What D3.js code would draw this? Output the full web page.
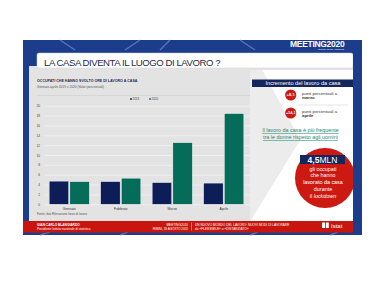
<!DOCTYPE html>
<html><head><meta charset="utf-8">
<script src="https://cdn.jsdelivr.net/npm/d3@7"></script>
<style>html,body{margin:0;padding:0;background:#fff;}svg{display:block;font-family:"Liberation Sans",Arial,sans-serif;}</style>
</head><body>
<svg id="c" width="390" height="281"></svg>
<script>
const categories = ["Gennaio", "Febbraio", "Marzo", "Aprile"];
const seriesNames = ["2019", "2020"];
const values2019 = [4.7, 4.6, 4.4, 4.3];
const values2020 = [4.6, 5.3, 12.5, 18.4];
const yTicks = [0, 2, 4, 6, 8, 10, 12, 14, 16, 18, 20];
const colors = ["#0c1d57", "#066c5a"];

const svg = d3.select("#c");
const navy = "#1c3c8c";

// slide frame
svg.append("rect").attr("x",23).attr("y",40).attr("width",339).attr("height",195).attr("fill",navy);
const streaks = [[60,40,75,50],[140,40,125,50],[170,40,160,50],[240,40,255,50],[40,235,50,232],[120,235,128,232],[250,235,258,232],[330,235,338,232]];
svg.selectAll("line.st").data(streaks).enter().append("line")
  .attr("x1",d=>d[0]).attr("y1",d=>d[1]).attr("x2",d=>d[2]).attr("y2",d=>d[3])
  .attr("stroke","#6f8cc8").attr("stroke-width",1.5).attr("opacity",0.7);

// content gray panel
svg.append("rect").attr("x",29).attr("y",66).attr("width",324).attr("height",156).attr("fill","#e3e3e3");
svg.append("path").attr("d","M262,70 L353,70 L353,221 L250,221 L300,140 Z").attr("fill","#ffffff");
svg.append("path").attr("d","M250,70 L262,70 L300,140 L250,221 Z").attr("fill","#ececec");

// title box
svg.append("rect").attr("x",37).attr("y",53).attr("width",316).attr("height",15).attr("rx",2).attr("fill","#ffffff").attr("stroke","#d0d0d0").attr("stroke-width",0.5);
svg.append("text").attr("x",44).attr("y",66).attr("font-size",9.6).attr("fill","#1e2a4a").attr("letter-spacing",-0.45).text("LA CASA DIVENTA IL LUOGO DI LAVORO ?");
svg.append("text").attr("x",290).attr("y",47).attr("font-size",8.5).attr("font-weight","bold").attr("fill","#ffffff").attr("letter-spacing",-0.3).text("MEETING2020");
svg.append("text").attr("x",318).attr("y",50).attr("font-size",2.5).attr("fill","#ffffff").text("RIMINI 18-23 AGOSTO");

// chart titles
svg.append("text").attr("x",37).attr("y",82).attr("font-size",3.6).attr("font-weight","bold").attr("fill","#1c2a55").text("OCCUPATI CHE HANNO SVOLTO ORE DI LAVORO A CASA");
svg.append("text").attr("x",37).attr("y",88).attr("font-size",3.2).attr("fill","#555").text("Gennaio-aprile 2019 e 2020 (Valori percentuali)");
svg.append("line").attr("x1",37).attr("x2",250).attr("y1",95.5).attr("y2",95.5).attr("stroke","#c8c8c8").attr("stroke-width",0.5);

// scales
const x = d3.scaleBand().domain(categories).range([43.5, 249.5]).paddingInner(0.22).paddingOuter(0.11);
const x1 = d3.scaleBand().domain(seriesNames).range([0, x.bandwidth()]).paddingInner(0.06);
const y = d3.scaleLinear().domain([0, 20]).range([204.3, 105.7]);

const gy = svg.append("g").attr("transform","translate(45,0)")
  .call(d3.axisLeft(y).tickValues(yTicks).tickSize(-205).tickFormat(d=>d));
gy.select(".domain").remove();
gy.selectAll(".tick line").attr("stroke","#f6f6f6").attr("stroke-width",0.6);
gy.selectAll(".tick text").attr("font-size",3.2).attr("fill","#444").attr("x",-5).attr("font-family","Liberation Sans, Arial, sans-serif");

const data = categories.map((c,i)=>({cat:c, vals:[values2019[i], values2020[i]]}));
const groups = svg.selectAll("g.grp").data(data).enter().append("g").attr("transform",d=>`translate(${x(d.cat)},0)`);
groups.selectAll("rect").data(d=>d.vals.map((v,j)=>({v, s:seriesNames[j], j}))).enter().append("rect")
  .attr("x",d=>x1(d.s)).attr("width",x1.bandwidth())
  .attr("y",d=>y(d.v)).attr("height",d=>y(0)-y(d.v))
  .attr("fill",d=>colors[d.j]).attr("stroke","#ffffff").attr("stroke-width",0.4);

const gx = svg.append("g").attr("transform","translate(0,204.3)").call(d3.axisBottom(x).tickSize(0).tickPadding(3));
gx.select(".domain").remove();
gx.selectAll("text").attr("font-size",3.4).attr("fill","#333").attr("font-family","Liberation Sans, Arial, sans-serif");

const leg = svg.selectAll("g.leg").data(seriesNames).enter().append("g").attr("transform",(d,i)=>`translate(${131+i*19},100)`);
leg.append("circle").attr("r",0.9).attr("cy",-1).attr("fill",(d,i)=>colors[i]);
leg.append("text").attr("x",1.5).attr("font-size",3).attr("fill","#444").text(d=>d);

svg.append("text").attr("x",37).attr("y",214.5).attr("font-size",3).attr("fill","#555").text("Fonte: dati Rilevazione forze di lavoro");

// right panel
svg.append("rect").attr("x",252).attr("y",79.5).attr("width",101).attr("height",7.5).attr("fill","#14265e");
svg.append("text").attr("x",303).attr("y",85.3).attr("text-anchor","middle").attr("font-size",5.6).attr("fill","#ffffff").text("Incremento del lavoro da casa");
const incr = [{v:"+8,1", m:"marzo", cy:95}, {v:"+14,1", m:"aprile", cy:113}];
const ig = svg.selectAll("g.inc").data(incr).enter().append("g");
ig.append("circle").attr("cx",290.7).attr("cy",d=>d.cy).attr("r",5.6).attr("fill","#cc1a12");
ig.append("text").attr("x",290.7).attr("y",d=>d.cy+1.4).attr("text-anchor","middle").attr("font-size",d=>d.v.length>4?3.8:4.2).attr("font-weight","bold").attr("fill","#fff").text(d=>d.v);
ig.append("text").attr("x",302).attr("y",d=>d.cy-0.5).attr("font-size",4.3).attr("fill","#333").text("punti percentuali a");
ig.append("text").attr("x",302).attr("y",d=>d.cy+4).attr("font-size",4.3).attr("font-weight","bold").attr("fill","#333").text(d=>d.m);
svg.append("line").attr("x1",298).attr("x2",348).attr("y1",105).attr("y2",105).attr("stroke","#bbb").attr("stroke-width",0.4);

svg.append("text").attr("x",300.5).attr("y",132).attr("text-anchor","middle").attr("font-size",5.4).attr("fill","#1f8a76").attr("text-decoration","underline").text("Il lavoro da casa è più frequente");
svg.append("text").attr("x",300.5).attr("y",139.3).attr("text-anchor","middle").attr("font-size",5.4).attr("fill","#1f8a76").attr("text-decoration","underline").text("tra le donne rispetto agli uomini");

svg.append("circle").attr("cx",325).attr("cy",178).attr("r",30).attr("fill","#cc1a12");
svg.append("rect").attr("x",300).attr("y",155).attr("width",45).attr("height",9).attr("fill","#14265e");
const mln = svg.append("text").attr("x",322.5).attr("y",162.8).attr("text-anchor","middle").attr("fill","#fff").attr("font-size",8.5);
mln.append("tspan").attr("font-weight","bold").text("4,5");
mln.append("tspan").text("MLN");
const lines = ["gli occupati","che hanno","lavorato da casa","durante"];
svg.selectAll("text.ml").data(lines).enter().append("text").attr("x",323).attr("y",(d,i)=>170.5+i*6.8)
  .attr("text-anchor","middle").attr("font-size",5.4).attr("fill","#fff").text(d=>d);
const ll = svg.append("text").attr("x",323).attr("y",197.7).attr("text-anchor","middle").attr("font-size",5.4).attr("fill","#fff");
ll.append("tspan").text("il ");
ll.append("tspan").attr("font-style","italic").text("lockdown");

svg.append("rect").attr("x",353).attr("y",40).attr("width",9).attr("height",195).attr("fill",navy);

// footer
svg.append("rect").attr("x",23).attr("y",221).attr("width",330).attr("height",11.5).attr("fill","#c8160e");
svg.append("text").attr("x",37).attr("y",225.5).attr("font-size",3.2).attr("font-weight","bold").attr("fill","#fff").text("GIAN CARLO BLANGIARDO");
svg.append("text").attr("x",37).attr("y",229.5).attr("font-size",3).attr("fill","#fff").text("Presidente Istituto nazionale di statistica");
svg.append("text").attr("x",188).attr("y",225.5).attr("text-anchor","end").attr("font-size",3.2).attr("fill","#fff").text("MEETING2020");
svg.append("text").attr("x",188).attr("y",229.5).attr("text-anchor","end").attr("font-size",3).attr("fill","#fff").text("RIMINI, 18 AGOSTO 2020");
svg.append("line").attr("x1",191.5).attr("x2",191.5).attr("y1",222.5).attr("y2",230.5).attr("stroke","#fff").attr("stroke-width",0.4);
svg.append("text").attr("x",195).attr("y",225.5).attr("font-size",3.2).attr("fill","#fff").text("UN NUOVO MONDO DEL LAVORO: NUOVI MODI DI LAVORARE");
svg.append("text").attr("x",195).attr("y",229.5).attr("font-size",3.2).attr("fill","#fff").text("da «FLESSIBILE» a «DISTANZIATO»");
// Istat logo
svg.append("rect").attr("x",322).attr("y",222.5).attr("width",3).attr("height",5.5).attr("fill","#fff");
svg.append("rect").attr("x",325.8).attr("y",222.5).attr("width",3).attr("height",5.5).attr("fill","#fff");
svg.append("text").attr("x",331).attr("y",228).attr("font-size",6).attr("fill","#fff").text("Istat");
</script>
</body></html>
